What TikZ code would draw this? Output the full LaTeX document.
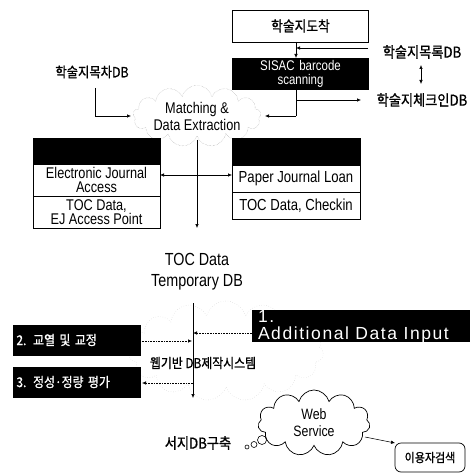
\documentclass[tikz,border=0pt]{standalone}
\usepackage{fontspec}
\setmainfont{Liberation Sans}[FakeStretch=0.82]
\newfontfamily\wide{Liberation Sans}[LetterSpace=9]
\newfontfamily\kr{Noto Sans CJK KR}[FakeStretch=0.88,FakeBold=1]
\usetikzlibrary{arrows.meta,shapes.symbols,calc}
\begin{document}
\begin{tikzpicture}[x=1pt,y=-1pt,
  every node/.style={inner sep=0pt,outer sep=0pt,align=center},
  lat/.style={font=\fontsize{16}{13}\selectfont},
  krt/.style={font=\kr\fontsize{15}{16}\selectfont},
  wbox/.style={draw,fill=white,line width=0.7pt,minimum width=127pt,lat},
  bbox/.style={draw,fill=black,text=white,line width=0.7pt},
  arr/.style={-{Latex[length=4pt,width=3.5pt]},line width=0.6pt},
  darr/.style={arr,densely dotted},
  ln/.style={line width=0.6pt}]
\useasboundingbox (0,0) rectangle (470,473);
% background faint cloud
\node[cloud,cloud puffs=15,cloud ignores aspect,draw=black!22,dotted,minimum width=195pt,minimum height=100pt] (bgc) at (226,351) {};
% top
\node[draw,line width=0.7pt,minimum width=136pt,minimum height=32pt,font=\kr\fontsize{14.5}{15}\selectfont] (arrive) at (300.5,26) {학술지도착};
\node[bbox,minimum width=136pt,minimum height=31pt,text width=130pt,font=\fontsize{14}{14}\selectfont] (sisac) at (300.5,73.5) {SISAC barcode\\scanning};
\node[krt] (mokrok) at (422,52) {학술지목록DB};
\node[krt] (checkin) at (422,100) {학술지체크인DB};
\node[krt,font=\kr\fontsize{14}{15}\selectfont] (mokcha) at (92,72) {학술지목차DB};
\node[cloud,cloud puffs=13,cloud ignores aspect,draw=black!40,densely dotted,minimum width=128pt,minimum height=46pt,font=\fontsize{15.5}{17}\selectfont] (match) at (197,116) {Matching \&\\Data Extraction};
% left box
\node[bbox,minimum width=127pt,minimum height=26pt] (lhead) at (96.5,151) {};
\node[wbox,minimum height=32pt,font=\fontsize{15.5}{14}\selectfont] (ej) at (96.5,180) {Electronic Journal\\Access};
\node[wbox,minimum height=32pt,font=\fontsize{15.5}{14}\selectfont] (toc1) at (96.5,212) {TOC Data,\\EJ Access Point};
% right box
\node[bbox,minimum width=128pt,minimum height=27pt] (rhead) at (296,151.5) {};
\node[wbox,minimum width=128pt,minimum height=27pt] (pjl) at (296,178.5) {Paper Journal Loan};
\node[wbox,minimum width=128pt,minimum height=27pt] (toc2) at (296,205.5) {TOC Data, Checkin};
% temp db
\node[font=\fontsize{17.5}{21}\selectfont] (tmp) at (197,272) {TOC Data\\Temporary DB};
% lower boxes
\node[bbox,minimum width=218pt,minimum height=31pt] (b1) at (361,325.5) {};
\node[text=white,anchor=north west,align=left,font=\wide\fontsize{17.5}{16.5}\selectfont] (b1t) at (258,310.5) {1.\\Additional Data Input};
\node[bbox,minimum width=127pt,minimum height=30pt,align=left,text width=120pt,font=\kr\fontsize{13.5}{14}\selectfont] (b2) at (76.5,340) {2. 교열 및 교정};
\node[bbox,minimum width=127pt,minimum height=30pt,align=left,text width=120pt,font=\kr\fontsize{13.5}{14}\selectfont] (b3) at (76.5,382) {3. 정성·정량 평가};
\node[font=\kr\fontsize{13.5}{15}\selectfont] (web) at (203,363) {웹기반 DB제작시스템};
\node[cloud,cloud puffs=11,cloud ignores aspect,draw,line width=0.7pt,minimum width=112pt,minimum height=66pt,font=\fontsize{15}{17}\selectfont] (ws) at (314,423) {Web\\Service};
\node[font=\kr\fontsize{15}{16}\selectfont] (seoji) at (198,443) {서지DB구축};
\node[draw,rounded corners=6pt,line width=0.7pt,minimum width=70pt,minimum height=29pt,font=\kr\fontsize{12.5}{14}\selectfont] (user) at (430,457.5) {이용자검색};
\draw[line width=0.6pt] (262,440) circle (4.5pt);
\draw[line width=0.6pt] (254,444.5) circle (3pt);
\draw[line width=0.6pt] (247,447) circle (2pt);
% coordinates
\coordinate (mr) at (368,48);
\coordinate (j1) at (296,116);
\coordinate (j2) at (296,100);
\coordinate (ce) at (361,100);
\coordinate (k1) at (95,88);
\coordinate (k2) at (95,116);
\coordinate (m1) at (197,140);
\coordinate (m2) at (197,228);
\coordinate (m3) at (197,175);
\coordinate (v1) at (193,303);
\coordinate (v2) at (193,398);
\coordinate (da) at (421,65);
\coordinate (db) at (421,84);
% connectors
\draw[arr] (arrive.south -| j1) -- (sisac.north -| j1);
\draw[arr] (mr) -- (mr -| j1);
\draw[{Latex[length=4pt,width=3.5pt]}-{Latex[length=4pt,width=3.5pt]},line width=0.6pt] (da) -- (db);
\draw[ln] (sisac.south -| j1) -- (j1);
\draw[arr] (j1) -- (265,116);
\draw[arr] (j2) -- (ce);
\draw[ln] (k1) -- (k2);
\draw[arr] (k2) -- (131,116);
\draw[arr] (m1) -- (m2);
\draw[arr] (m3) -- (ej.east |- m3);
\draw[arr] (m3) -- (pjl.west |- m3);
\draw[arr] (v1) -- (v2);
\draw[darr] (b1.west |- 0,333) -- (v1 |- 0,333);
\draw[darr] (b2.east |- 0,341) -- ($(v1 |- 0,341)+(-1,0)$);
\draw[darr] (v1 |- 0,383) -- ($(b3.east |- 0,383)+(2,0)$);
\draw[arr,line width=0.5pt] (365,437) -- (user.north west);
\end{tikzpicture}
\end{document}
